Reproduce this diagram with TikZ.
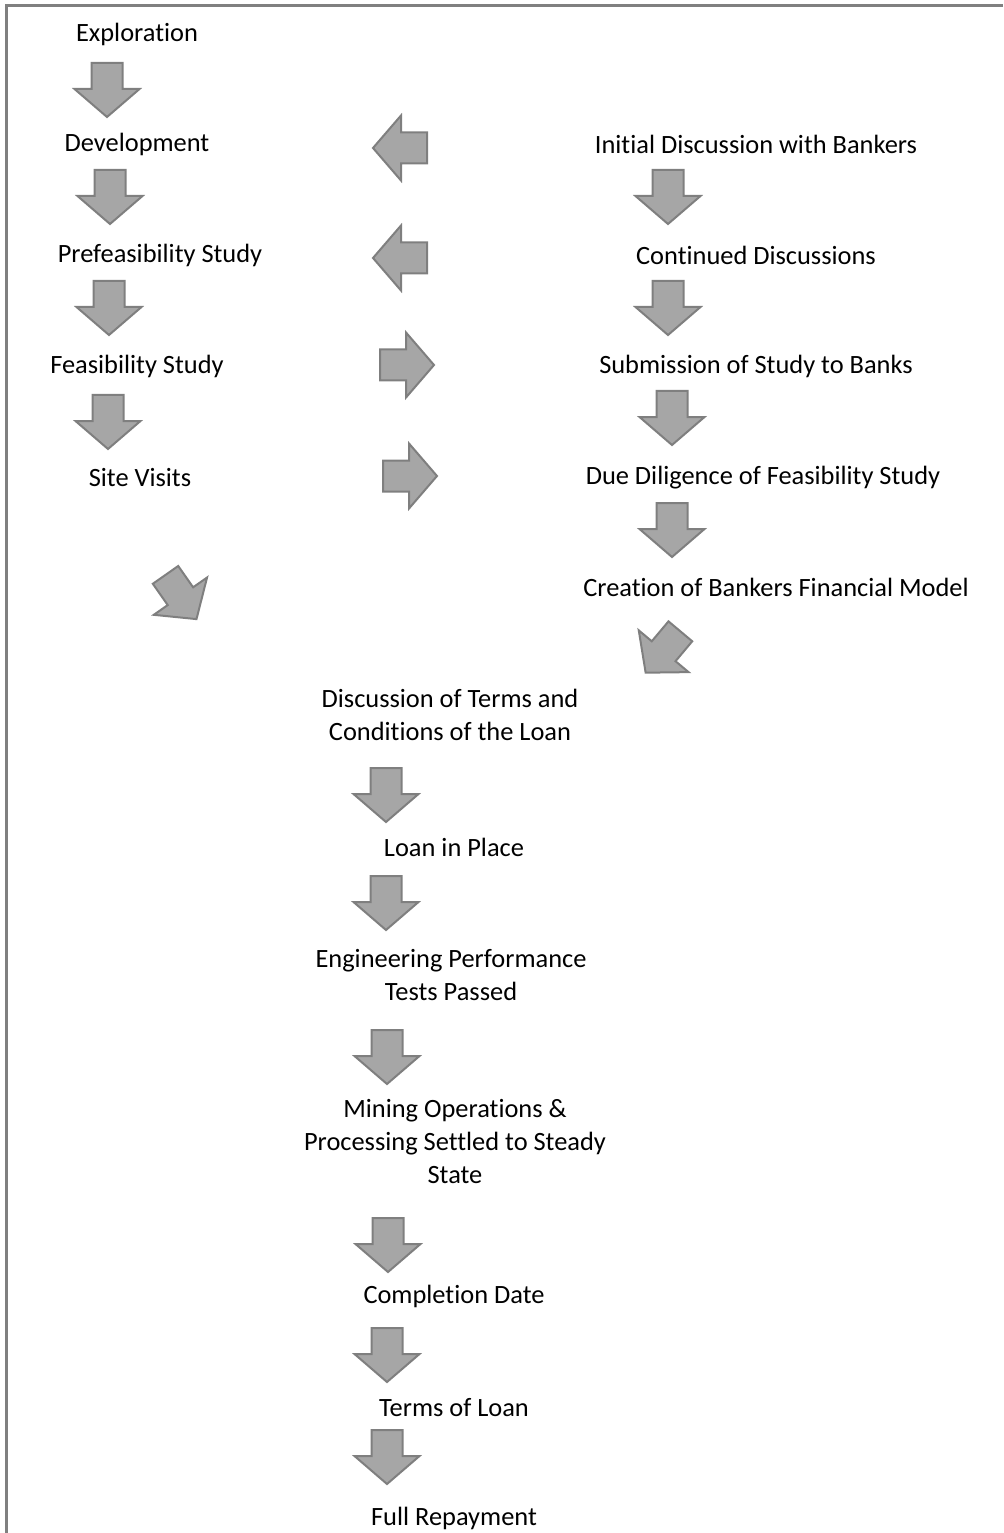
\documentclass[tikz,border=0pt]{standalone}
\usepackage{fontspec}
\setmainfont[Ligatures=NoCommon]{Carlito}
\definecolor{arrowfill}{HTML}{A6A6A6}
\definecolor{arrowline}{HTML}{7F7F7F}
\definecolor{framecol}{HTML}{808080}
\begin{document}
\begin{tikzpicture}[x=0.75pt,y=-0.75pt,
  lbl/.style={font=\fontsize{19.8pt}{24.75pt}\selectfont, align=center, inner sep=0pt, text=black, yshift=-1.3pt},
  blk/.style={fill=arrowfill, draw=arrowline, line width=1.5pt, line join=miter},
  blockarrow/.pic={\path[blk] (-15.5,-27) -- (15.5,-27) -- (15.5,-1) -- (32.5,-1) -- (0,27) -- (-32.5,-1) -- (-15.5,-1) -- cycle;}]
\useasboundingbox (0,0) rectangle (1003,1533);
% frame (top and left edges only)
\coordinate (ftl) at (6.5,5.5);
\coordinate (ftr) at (1003,5.5);
\coordinate (fbl) at (6.5,1533);
\draw[framecol, line width=1.9pt] (ftr) -- (ftl) -- (fbl);

% left column
\node[lbl] (expl) at (137,33) {Exploration};
\node[lbl] (dev) at (137,143) {Development};
\node[lbl] (pref) at (160,254) {Prefeasibility Study};
\node[lbl] (feas) at (137,365) {Feasibility Study};
\node[lbl] (site) at (140,476) {Site Visits};

% right column
\node[lbl] (init) at (756,143) {Initial Discussion with Bankers};
\node[lbl] (cont) at (756,254) {Continued Discussions};
\node[lbl] (subm) at (756,365) {Submission of Study to Banks};
\node[lbl] (due) at (763,476) {Due Diligence of Feasibility Study};
\node[lbl] (crea) at (776,586) {Creation of Bankers Financial Model};

% center column
\node[lbl] (disc) at (450,713) {Discussion of Terms and\\Conditions of the Loan};
\node[lbl] (loan) at (454,846) {Loan in Place};
\node[lbl] (eng) at (451,973) {Engineering Performance\\Tests Passed};
\node[lbl] (mine) at (455,1140) {Mining Operations \&\\Processing Settled to Steady\\State};
\node[lbl] (comp) at (454,1295) {Completion Date};
\node[lbl] (terms) at (454,1406) {Terms of Loan};
\node[lbl] (full) at (454,1517) {Full Repayment};

% block arrows, left column
\pic at (107,90) {blockarrow};
\pic at (110,197) {blockarrow};
\pic at (109,308) {blockarrow};
\pic at (108,422) {blockarrow};
% right column
\pic at (668,197) {blockarrow};
\pic at (668,308) {blockarrow};
\pic at (672,418) {blockarrow};
\pic at (672,530) {blockarrow};
% horizontal arrows
\pic[rotate=-90] at (400,148) {blockarrow};
\pic[rotate=-90] at (400,258) {blockarrow};
\pic[rotate=90] at (407,365) {blockarrow};
\pic[rotate=90] at (410,476) {blockarrow};
% diagonal arrows
\pic[rotate=35] at (181,597) {blockarrow};
\pic[rotate=-40] at (663,652) {blockarrow};
% center column
\pic at (386,795) {blockarrow};
\pic at (386,903) {blockarrow};
\pic at (387,1057) {blockarrow};
\pic at (388,1245) {blockarrow};
\pic at (387,1355) {blockarrow};
\pic at (387,1457) {blockarrow};
\end{tikzpicture}
\end{document}
